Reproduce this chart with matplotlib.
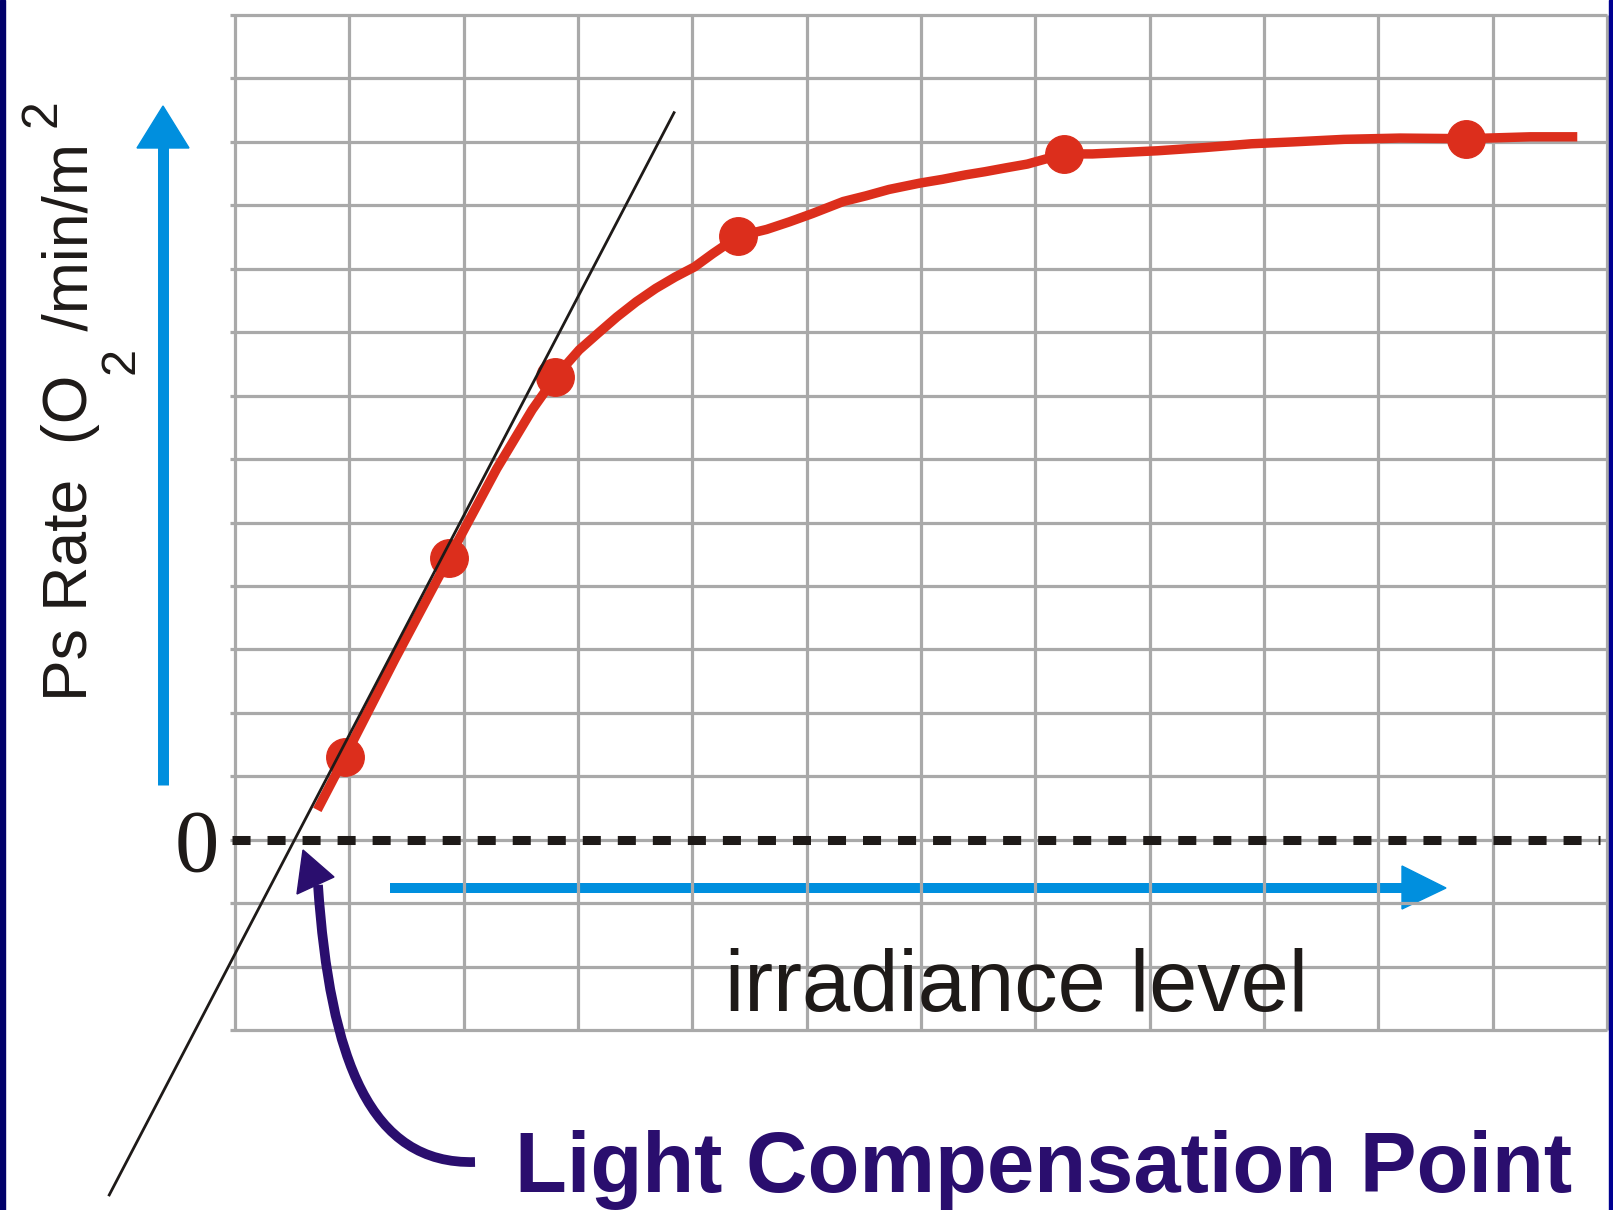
import numpy as np
import matplotlib.pyplot as plt
from matplotlib.patches import Polygon, Rectangle, PathPatch
from matplotlib.path import Path
from matplotlib.transforms import Affine2D

W, H = 1613, 1210

# measured points (grid units: irradiance vs Ps rate)
irradiance = [0.96, 1.87, 2.80, 4.40, 7.25, 10.77]
ps_rate = [1.30, 4.44, 7.29, 9.51, 10.81, 11.05]

# hand-drawn response curve through the points
curve_x = [0.72, 0.96, 1.40, 1.87, 2.29, 2.60, 2.80, 3.01, 3.18, 3.34, 3.51,
           3.68, 3.85, 4.02, 4.18, 4.40, 4.65, 4.85, 5.05, 5.32, 5.52, 5.72,
           5.99, 6.19, 6.39, 6.56, 6.74, 6.93, 7.25, 7.50, 8.07, 8.48, 8.89,
           9.26, 9.70, 10.19, 10.77, 11.33, 11.74]
curve_y = [0.47, 1.30, 2.85, 4.44, 5.85, 6.78, 7.29, 7.72, 7.99, 8.24, 8.48,
           8.69, 8.87, 9.03, 9.24, 9.51, 9.62, 9.74, 9.87, 10.06, 10.15, 10.25,
           10.35, 10.41, 10.48, 10.53, 10.59, 10.65, 10.81, 10.81, 10.86, 10.91, 10.97,
           11.00, 11.04, 11.06, 11.05, 11.08, 11.08]

# initial-slope line, crosses zero at the compensation point
tangent_x = [-1.10, 3.84]
tangent_y = [-5.60, 11.46]

x_grid = np.arange(0, 13)
y_grid = np.arange(-3, 14)

RED = '#DC2E1C'
BLUE = '#008FDE'
GREY = '#A9A9A9'
INK = '#1E1A18'
PURPLE = '#2A0E6E'

fig = plt.figure(figsize=(W / 100, H / 100), dpi=100)
fig.patch.set_facecolor('white')

# pixel coords measured from the top-left corner
pix = Affine2D().scale(1 / W, -1 / H).translate(0, 1) + fig.transFigure

ax = fig.add_axes([235 / W, 1 - 1030 / H, (1607 - 235) / W, (1030 - 15) / H])
ax.set_xlim(0, 12)
ax.set_ylim(-3, 13)
ax.axis('off')

# grid
ax.vlines(x_grid, -3, 13, color=GREY, lw=2.3, zorder=2, clip_on=False)
ax.hlines(y_grid, -0.04, 12, color=GREY, lw=2.3, zorder=2, clip_on=False)

# curve + points
ax.plot(curve_x, curve_y, color=RED, lw=6.8, solid_capstyle='butt',
        solid_joinstyle='round', zorder=3, clip_on=False)
ax.plot(irradiance, ps_rate, 'o', ms=27, color=RED, mec=RED, zorder=4, clip_on=False)

# tangent
ax.plot(tangent_x, tangent_y, color=INK, lw=2, zorder=5, clip_on=False)

# zero line
ax.plot([-0.03, 11.94], [0, 0], color=INK, lw=6.5, dashes=(2.0, 1.88),
        dash_capstyle='butt', zorder=6, clip_on=False)

# blue direction arrows (behind the grid)
ax.plot([163, 163], [785, 146], color=BLUE, lw=7.9, solid_capstyle='butt',
        transform=pix, zorder=1, clip_on=False)
ax.add_patch(Polygon([(163, 106), (137, 148), (189, 148)], closed=True,
                     color=BLUE, transform=pix, zorder=1, clip_on=False))
ax.plot([390, 1403], [888, 888], color=BLUE, lw=7.2, solid_capstyle='butt',
        transform=pix, zorder=1, clip_on=False)
ax.add_patch(Polygon([(1446, 888), (1402, 866), (1402, 909)], closed=True,
                     color=BLUE, transform=pix, zorder=1, clip_on=False))

# curved pointer to the compensation point
shaft = Path([(475, 1162), (370, 1165), (330, 1060), (318, 885)],
             [Path.MOVETO, Path.CURVE4, Path.CURVE4, Path.CURVE4])
ax.add_patch(PathPatch(shaft, fc='none', ec=PURPLE, lw=7, capstyle='butt',
                       transform=pix, zorder=7, clip_on=False))
ax.add_patch(Polygon([(303, 850), (297, 894), (334, 877)], closed=True,
                     color=PURPLE, transform=pix, zorder=7, clip_on=False))

# labels
ax.text(197, 871, '0', family='Liberation Serif', fontsize=64, color=INK,
        ha='center', va='baseline', transform=pix, zorder=8)
ax.text(725, 1011, 'irradiance level', family='Liberation Sans', fontsize=62.5,
        color=INK, ha='left', va='baseline', transform=pix, zorder=8)
ax.text(515, 1192, 'Light Compensation Point', family='Liberation Sans',
        fontweight='bold', fontsize=61.2, color=PURPLE, ha='left',
        va='baseline', transform=pix, zorder=8)

ylab = dict(family='Liberation Sans', color=INK, rotation=90,
            rotation_mode='anchor', ha='left', va='baseline',
            transform=pix, zorder=8)
ax.text(87, 701, 'Ps Rate  (O', fontsize=45, **ylab)
ax.text(133, 374, '2', fontsize=35, **ylab)
ax.text(87, 348, ' /min/m', fontsize=45, **ylab)
ax.text(55, 127, '2', fontsize=36, **ylab)

# slide border strips
fig.patches.append(Rectangle((0, 0), 5 / W, 1, transform=fig.transFigure,
                             color='#00006A', zorder=10))
fig.patches.append(Rectangle(((W - 4) / W, 0), 4 / W, 1, transform=fig.transFigure,
                             color='#000090', zorder=10))

fig.savefig('out.png', dpi=100)
